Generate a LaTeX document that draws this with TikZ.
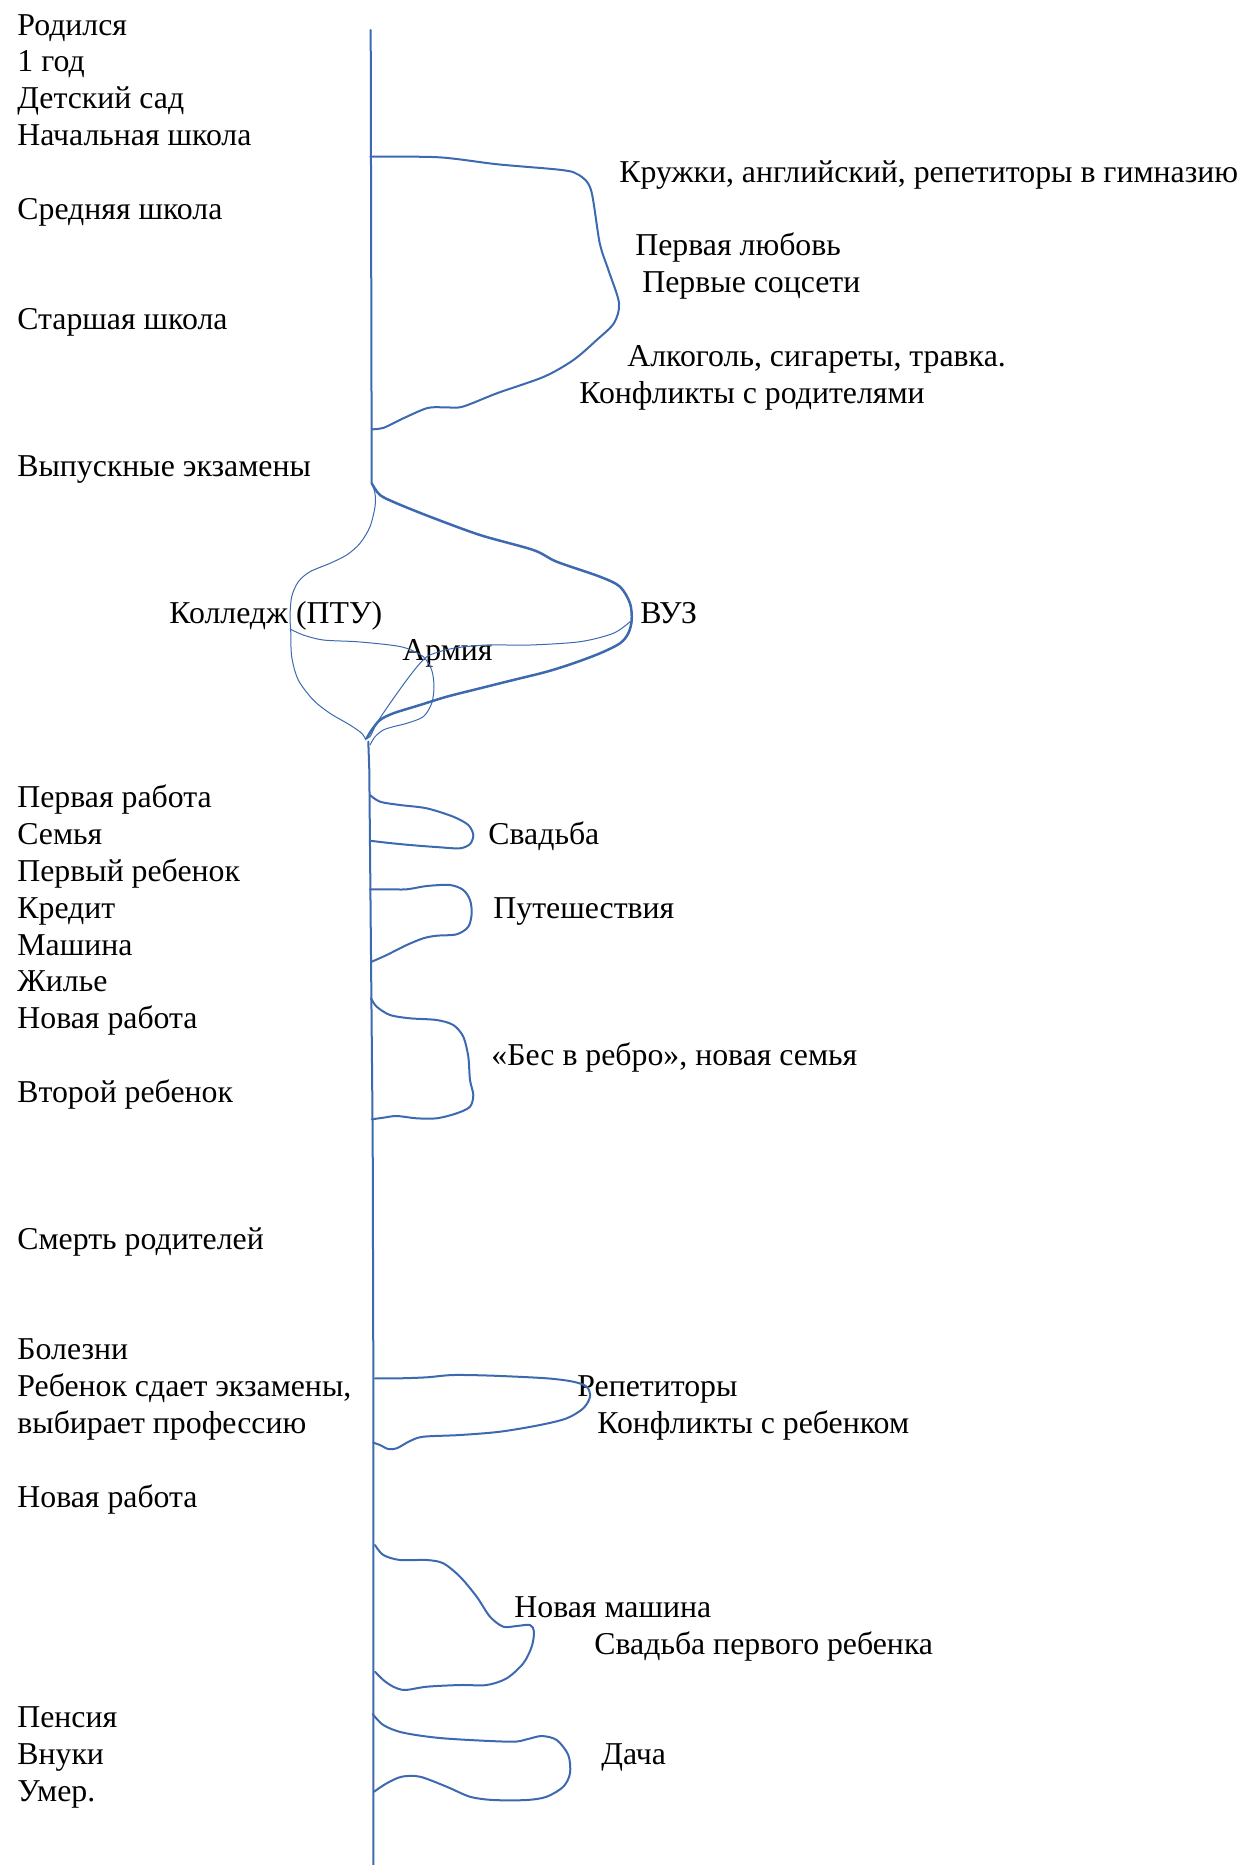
\documentclass[tikz,border=0pt]{standalone}
\usepackage{fontspec}
\setmainfont{Liberation Serif}
\definecolor{lineblue}{RGB}{60,105,175}
\tikzset{
  lbl/.style={anchor=base west, inner sep=0pt, font=\fontsize{15.9pt}{18pt}\selectfont, text=black},
  ln/.style={draw=lineblue, line width=1pt, line cap=round, line join=round},
  thick ln/.style={draw=lineblue, line width=1.25pt, line cap=round, line join=round},
  thin/.style={draw=lineblue, line width=0.5pt, line cap=round, line join=round}
}
\begin{document}
\begin{tikzpicture}[x=0.5pt,y=-0.5pt]
\useasboundingbox (0,0) rectangle (1255,1865);
% left column
\node[lbl] (l0) at (17,35) {Родился};
\node[lbl] (l1) at (17,71.8) {1 год};
\node[lbl] (l2) at (17,108.6) {Детский сад};
\node[lbl] (l3) at (17,145.4) {Начальная школа};
\node[lbl] (l5) at (17,219) {Средняя школа};
\node[lbl] (l8) at (17,329.4) {Старшая школа};
\node[lbl] (l12) at (17,476.6) {Выпускные экзамены};
\node[lbl] (l21) at (17,807.8) {Первая работа};
\node[lbl] (l22) at (17,844.6) {Семья};
\node[lbl] (l23) at (17,881.4) {Первый ребенок};
\node[lbl] (l24) at (17,918.2) {Кредит};
\node[lbl] (l25) at (17,955) {Машина};
\node[lbl] (l26) at (17,991.8) {Жилье};
\node[lbl] (l27) at (17,1028.6) {Новая работа};
\node[lbl] (l29) at (17,1102.2) {Второй ребенок};
\node[lbl] (l33) at (17,1249.4) {Смерть родителей};
\node[lbl] (l36) at (17,1359.8) {Болезни};
\node[lbl] (l37) at (17,1396.6) {Ребенок сдает экзамены,};
\node[lbl] (l38) at (17,1433.4) {выбирает профессию};
\node[lbl] (l40) at (17,1507) {Новая работа};
\node[lbl] (l46) at (17,1727.8) {Пенсия};
\node[lbl] (l47) at (17,1764.6) {Внуки};
\node[lbl] (l48) at (17,1801.4) {Умер.};
% right labels
\node[lbl] (r4) at (619,182.2) {Кружки, английский, репетиторы в гимназию};
\node[lbl] (r6) at (635,255.8) {Первая любовь};
\node[lbl] (r7) at (642,292.6) {Первые соцсети};
\node[lbl] (r9) at (627,366.2) {Алкоголь, сигареты, травка.};
\node[lbl] (r10) at (579,403) {Конфликты с родителями};
\node[lbl] (college) at (169,623.8) {Колледж (ПТУ)};
\node[lbl] (vuz) at (640,623.8) {ВУЗ};
\node[lbl] (army) at (402,660.6) {Армия};
\node[lbl] (r22) at (488,844.6) {Свадьба};
\node[lbl] (r24) at (493,918.2) {Путешествия};
\node[lbl] (r28) at (491,1065.4) {«Бес в ребро», новая семья};
\node[lbl] (r37) at (577,1396.6) {Репетиторы};
\node[lbl] (r38) at (597,1433.4) {Конфликты с ребенком};
\node[lbl] (r43) at (514,1617.4) {Новая машина};
\node[lbl] (r44) at (594,1654.2) {Свадьба первого ребенка};
\node[lbl] (r47) at (601,1764.6) {Дача};
% timeline
\coordinate (ttop) at (370.7,30);
\coordinate (tsplit) at (371.7,483.3);
\coordinate (tjoin) at (368.3,741.7);
\coordinate (tbot) at (373.3,1865);
\draw[ln] (ttop) -- (tsplit);
\draw[ln] (tjoin) -- (369.3,770) -- (372.7,1140) -- (373.3,1360) -- (tbot);
% school bracket
\draw[ln] plot[smooth, tension=0.5] coordinates {(370.3,156.7) (439,157.3) (497.6,164.3) (561.7,170) (579,175) (591,190) (599.7,243) (608.4,270) (619,303) (614,323) (596.7,340) (573.4,360) (544,376.7) (497.6,393) (462.5,406.7) (445,407.3) (427.5,408) (404,418) (383.8,427.7) (372,429.3)};
% VUZ branch (thick)
\draw[thick ln] plot[smooth, tension=0.5] coordinates {(371.7,483.3) (380,495) (396.7,503.3) (430,516.7) (480,535) (533.3,550) (556.7,561.7) (600,576.7) (620,586.7) (630,603.3) (631.7,620) (628.3,633.3) (620,643.3) (600,653.3) (573.3,663.3) (546.7,671.7) (513.3,680) (480,688.3) (446.7,696.7) (420,705) (393.3,713.3) (380,720) (371.7,730) (366.7,738.3)};
% college branch (thin)
\draw[thin] plot[smooth, tension=0.5] coordinates {(371.7,483.3) (375,493.3) (375,506.7) (370,526.7) (360,543.3) (346.7,555) (330,563.3) (310,571.7) (298.3,581.7) (291.7,596.7) (290,616.7) (290.7,630) (291.7,656.7) (298.3,680) (313.3,700) (330,713.3) (350,725) (361.7,733.3) (366,740)};
% college -> army
\draw[thin] plot[smooth, tension=0.5] coordinates {(290.7,629.3) (303.3,635) (323.3,640) (356.7,641.7) (390,645) (406.7,648.3) (423.3,656.7) (431.7,670) (434,686.7) (431.7,703.3) (423.3,716.7) (406.7,723.3) (393.3,726.7) (383.3,730) (375,736.7) (370,745)};
% VUZ -> army
\draw[thin] plot[smooth, tension=0.5] coordinates {(630,621.7) (613.3,633.3) (580,641.7) (530,645) (486.7,645) (453.3,648.3) (430,655) (420,663.3) (406.7,680) (390,703.3) (376.7,723.3) (370,736.7) (365,738.3)};
% wedding loop
\draw[ln] plot[smooth, tension=0.5] coordinates {(370,795) (380,801.7) (400,805) (426.7,808.3) (453.3,816.7) (468.3,825) (473.3,835) (470,844) (460,848.3) (440,847.3) (410,845) (386.7,842.7) (370,840.7)};
% travel loop
\draw[ln] plot[smooth, tension=0.5] coordinates {(370,889.3) (386.7,889.3) (406.7,889.3) (426.7,886) (450,885) (463.3,890) (470,900) (471.7,913.3) (468.3,926.7) (456.7,934.3) (436.7,935.7) (423.3,938.3) (406.7,945) (386.7,955) (371.7,961.7)};
% new family loop
\draw[ln] plot[smooth, tension=0.5] coordinates {(371,998.3) (376.7,1006.7) (390,1015) (410,1018.3) (436.7,1020) (453.3,1025) (463.3,1036.7) (468.3,1056.7) (470,1080) (473.3,1095) (470,1106.7) (456.7,1113.3) (436.7,1118.3) (416.7,1118.3) (396.7,1116) (383.3,1117.7) (371.7,1119.3)};
% tutors loop
\draw[ln] plot[smooth, tension=0.5] coordinates {(375,1378.3) (400,1378.3) (426.7,1377.3) (453.3,1375) (493.3,1375.7) (546.7,1378.3) (573.3,1381.7) (586.7,1386.7) (590,1396.7) (583.3,1408.3) (566.7,1418.3) (540,1425) (500,1431.7) (460,1435) (423.3,1436.7) (410,1441) (396.7,1448.3) (388.3,1449) (380,1445) (373.3,1442.7)};
% new car loop
\draw[ln] plot[smooth, tension=0.5] coordinates {(375,1545) (383.3,1555) (400,1560) (426.7,1560) (443.3,1563.3) (460,1576.7) (476.7,1596.7) (490,1616.7) (503.3,1626.7) (516.7,1626) (530,1625) (534,1631.7) (531.7,1646.7) (523.3,1663.3) (506.7,1678.3) (486.7,1685) (460,1685) (426.7,1686.7) (405,1690) (393.3,1686.7) (383.3,1680) (375,1671.7)};
% dacha loop
\draw[ln] plot[smooth, tension=0.5] coordinates {(372.7,1714) (383.3,1725) (403.3,1732.7) (443.3,1738.3) (510,1741.7) (526.7,1739.3) (541.7,1736) (556.7,1740) (568.3,1755) (570,1773.3) (563.3,1786.7) (546.7,1796.7) (526.7,1800) (493.3,1800) (470,1796.7) (446.7,1786.7) (420,1776.7) (401.7,1776.7) (386.7,1783.3) (374,1791.7)};
\end{tikzpicture}
\end{document}
